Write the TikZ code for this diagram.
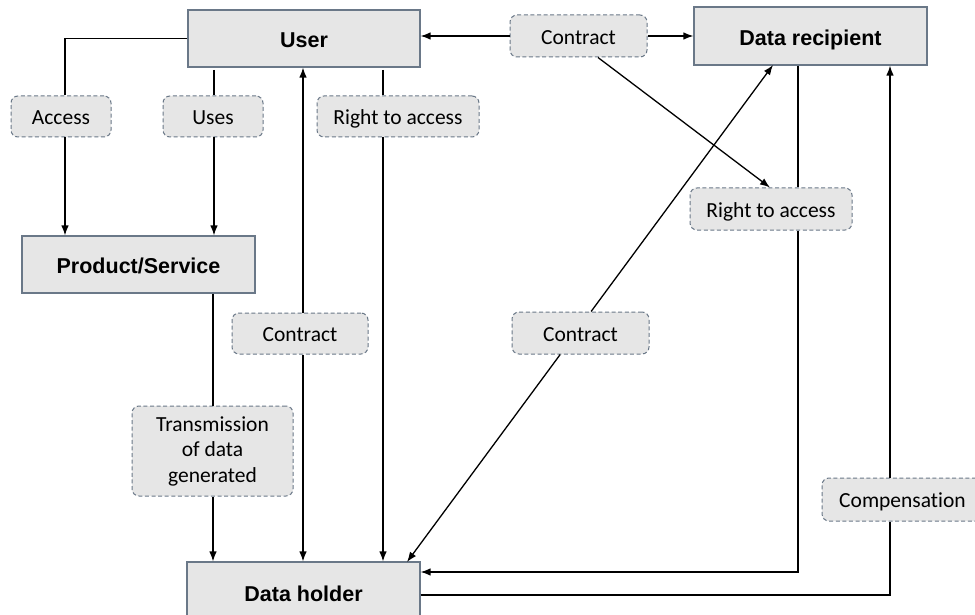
\documentclass[tikz,border=0pt]{standalone}
\usepackage{fontspec}
\setmainfont{Carlito}[Ligatures=NoCommon]
\newfontfamily\boxfont{Liberation Sans}
\usetikzlibrary{arrows.meta}
\definecolor{boxfill}{HTML}{E6E6E6}
\definecolor{boxdraw}{HTML}{6A7888}
\begin{document}
\begin{tikzpicture}[x=1pt,y=-1pt,
  mainbox/.style={draw=boxdraw, fill=boxfill, line width=1.1pt, inner sep=0pt,
    text height=18.9pt, text depth=0pt,
    font=\boxfont\bfseries\fontsize{21.5}{25}\selectfont},
  lab/.style={draw=boxdraw, fill=boxfill, dash pattern=on 4pt off 2.6pt,
    rounded corners=7pt, line width=1pt, inner sep=0pt, align=center,
    font=\fontsize{21.5}{25.5}\selectfont},
  oneline/.style={text height=16.8pt, text depth=0pt},
  con/.style={line width=1.3pt, draw=black},
  arr/.style={con, -{Latex[length=10pt,width=7.5pt]}},
]
\useasboundingbox (0,0) rectangle (975,615);
\clip (0,0) rectangle (975,615);

% main boxes
\node[mainbox, minimum width=232pt, minimum height=57pt] (user) at (304,38.5) {User};
\node[mainbox, minimum width=233pt, minimum height=58pt] (rec) at (810.5,36) {Data recipient};
\node[mainbox, minimum width=233pt, minimum height=57pt] (prod) at (138.5,264.5) {Product/Service};
\node[mainbox, minimum width=233pt, minimum height=60pt] (holder) at (303.5,592) {Data holder};

% label boxes
\node[lab, oneline, minimum width=100pt, minimum height=41pt] (lAccess) at (61,116.5) {Access};
\node[lab, oneline, minimum width=100pt, minimum height=41pt] (lUses) at (213,116.5) {Uses};
\node[lab, oneline, minimum width=162pt, minimum height=41pt] (lRta1) at (398,116.5) {Right to access};
\node[lab, oneline, minimum width=137pt, minimum height=42pt] (lCon1) at (578.5,36) {Contract};
\node[lab, oneline, minimum width=162pt, minimum height=42pt] (lRta2) at (771,209) {Right to access};
\node[lab, oneline, minimum width=136pt, minimum height=41pt] (lCon2) at (300,333.5) {Contract};
\node[lab, minimum width=161pt, minimum height=90pt] (lTrans) at (212.5,451) {Transmission\\of data\\generated};
\node[lab, oneline, minimum width=137pt, minimum height=42pt] (lCon3) at (580.5,333) {Contract};
\node[lab, oneline, minimum width=161pt, minimum height=43pt] (lComp) at (902.5,499.5) {Compensation};

% column / row helper coordinates
\coordinate (xA) at (65,0);
\coordinate (xU) at (214,0);
\coordinate (xM) at (303,0);
\coordinate (xR) at (383,0);
\coordinate (xP) at (213,0);
\coordinate (xD) at (798,0);
\coordinate (xC) at (890,0);
\coordinate (yT) at (0,70);
\coordinate (yB1) at (0,572);
\coordinate (yB2) at (0,595);
\coordinate (rtip) at (773,65);
\coordinate (htip) at (407,562);

% User -> Access -> Product/Service
\draw[con] (user.west) -| (xA |- lAccess.north);
\draw[arr] (xA |- lAccess.south) -- (xA |- prod.north);
% User -> Uses -> Product/Service
\draw[con] (xU |- yT) -- (xU |- lUses.north);
\draw[arr] (xU |- lUses.south) -- (xU |- prod.north);
% User <-> Contract <-> Data holder
\draw[arr] (xM |- lCon2.north) -- (xM |- user.south);
\draw[arr] (xM |- lCon2.south) -- (xM |- holder.north);
% User -> Right to access -> Data holder
\draw[con] (xR |- yT) -- (xR |- lRta1.north);
\draw[arr] (xR |- lRta1.south) -- (xR |- holder.north);
% Product/Service -> Transmission -> Data holder
\draw[con] (xP |- prod.south) -- (xP |- lTrans.north);
\draw[arr] (xP |- lTrans.south) -- (xP |- holder.north);
% Contract (top)
\draw[arr] (lCon1.west) -- (lCon1.west -| user.east);
\draw[arr] (lCon1.east) -- (lCon1.east -| rec.west);
\draw[arr] ([xshift=19.5pt]lCon1.south) -- ([xshift=-1pt]lRta2.north);
% Data recipient -> Right to access -> Data holder
\draw[con] (xD |- rec.south) -- (xD |- lRta2.north);
\draw[arr] (xD |- lRta2.south) -- (xD |- yB1) -- (holder.east |- yB1);
% Data holder -> Compensation -> Data recipient
\draw[con] (holder.east |- yB2) -- (xC |- yB2) -- (xC |- lComp.south);
\draw[arr] (xC |- lComp.north) -- (xC |- rec.south);
% Data holder <-> Contract <-> Data recipient
\draw[arr] ([xshift=10.6pt]lCon3.north) -- (rtip);
\draw[arr] ([xshift=-20.3pt]lCon3.south) -- (htip);
\end{tikzpicture}
\end{document}
